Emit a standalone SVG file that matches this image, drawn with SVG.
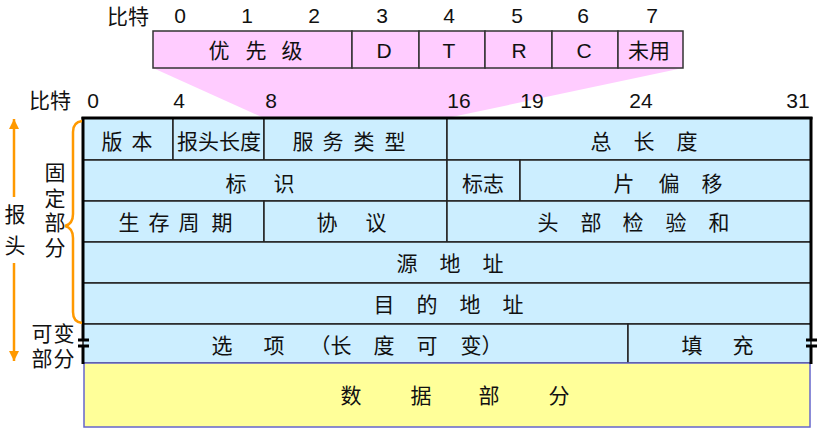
<svg xmlns="http://www.w3.org/2000/svg" width="826" height="443" viewBox="0 0 826 443">
<style>
text{font-family:"Liberation Sans","Noto Sans CJK SC",sans-serif;font-size:21px;fill:#111;text-anchor:middle}
.cjk{font-family:"Noto Sans CJK SC","Liberation Sans",sans-serif;font-size:21px}
.cell{fill:#CCEEFF;stroke:#222;stroke-width:1.5}
.pink{fill:#FFCCFF;stroke:#333;stroke-width:1.5}
.bold{stroke:#000;stroke-width:3;fill:none}
.orange{stroke:#FF9900;stroke-width:2.5;fill:none}
</style>
<defs>
<marker id="ah" viewBox="0 0 10 10" refX="10" refY="5" markerWidth="4" markerHeight="4" orient="auto-start-reverse" markerUnits="strokeWidth">
<path d="M0,0 L10,5 L0,10 z" fill="#FF9900"/>
</marker>
</defs>

<!-- pink expansion -->
<polygon points="153,68 683,68 447,118 264,118" fill="#FFCCFF"/>

<!-- top bit scale -->
<g id="bits-top">
<text class="cjk" x="128" y="24">比特</text>
<text x="180" y="23">0</text><text x="247" y="23">1</text><text x="314" y="23">2</text><text x="382" y="23">3</text>
<text x="449" y="23">4</text><text x="517" y="23">5</text><text x="583" y="23">6</text><text x="652" y="23">7</text>
</g>

<g id="tos-box">
<rect class="pink" x="153" y="31" width="199" height="37"/>
<rect class="pink" x="352" y="31" width="67" height="37"/>
<rect class="pink" x="419" y="31" width="66" height="37"/>
<rect class="pink" x="485" y="31" width="67" height="37"/>
<rect class="pink" x="552" y="31" width="66" height="37"/>
<rect class="pink" x="618" y="31" width="65" height="37"/>
<text class="cjk" x="219 256 292" y="58">优先级</text>
<text x="384" y="58">D</text><text x="449" y="58">T</text><text x="519" y="58">R</text><text x="584" y="58">C</text>
<text class="cjk" x="649" y="58">未用</text>
</g>

<!-- main bit scale -->
<g id="bits-main">
<text class="cjk" x="50" y="108">比特</text>
<text x="93" y="108">0</text><text x="179" y="108">4</text><text x="271" y="108">8</text><text x="459" y="108">16</text>
<text x="532" y="108">19</text><text x="641" y="108">24</text><text x="798" y="108">31</text>
</g>

<g id="row1">
<rect class="cell" x="83" y="118" width="90" height="42"/>
<rect class="cell" x="173" y="118" width="91" height="42"/>
<rect class="cell" x="264" y="118" width="183" height="42"/>
<rect class="cell" x="447" y="118" width="364" height="42"/>
<text class="cjk" x="112 142" y="149">版本</text>
<text class="cjk" x="219" y="149">报头长度</text>
<text class="cjk" x="303 333 364 395" y="149">服务类型</text>
<text class="cjk" x="601 644 687" y="149">总长度</text>
</g>
<g id="row2">
<rect class="cell" x="83" y="160" width="364" height="41"/>
<rect class="cell" x="447" y="160" width="73" height="41"/>
<rect class="cell" x="520" y="160" width="291" height="41"/>
<text class="cjk" x="236 284" y="191">标识</text>
<text class="cjk" x="483" y="191">标志</text>
<text class="cjk" x="624 669 712" y="191">片偏移</text>
</g>
<g id="row3">
<rect class="cell" x="83" y="201" width="181" height="41"/>
<rect class="cell" x="264" y="201" width="183" height="41"/>
<rect class="cell" x="447" y="201" width="364" height="41"/>
<text class="cjk" x="129 159 189 222" y="230">生存周期</text>
<text class="cjk" x="327 376" y="230">协议</text>
<text class="cjk" x="548 591 633 676 719" y="230">头部检验和</text>
</g>
<g id="row4">
<rect class="cell" x="83" y="242" width="728" height="41"/>
<text class="cjk" x="407 450 493" y="271">源地址</text>
</g>
<g id="row5">
<rect class="cell" x="83" y="283" width="728" height="41"/>
<text class="cjk" x="384 427 470 513" y="312">目的地址</text>
</g>
<g id="row6">
<rect class="cell" x="83" y="324" width="545" height="39"/>
<rect class="cell" x="628" y="324" width="183" height="39"/>
<text class="cjk" x="222 274 320 341 384 427 471 492" y="353">选项（长度可变）</text>
<text class="cjk" x="692 743" y="353">填充</text>
</g>
<g id="data">
<rect x="84" y="363" width="726" height="64" fill="#FFFF99" stroke="#6666CC" stroke-width="1.5"/>
<text class="cjk" x="351 421 489 559" y="403">数据部分</text>
</g>

<!-- header outer borders -->
<g id="borders">
<line class="bold" x1="81.5" y1="118" x2="812.5" y2="118" stroke-width="2.5"/>
<line class="bold" x1="83" y1="117" x2="83" y2="340"/>
<line class="bold" x1="83" y1="346" x2="83" y2="364"/>
<line class="bold" x1="811" y1="117" x2="811" y2="340"/>
<line class="bold" x1="811" y1="346" x2="811" y2="364"/>
<line class="bold" x1="78" y1="340" x2="89" y2="340" stroke-width="2.5"/>
<line class="bold" x1="78" y1="346" x2="89" y2="346" stroke-width="2.5"/>
<line class="bold" x1="806" y1="340" x2="817" y2="340" stroke-width="2.5"/>
<line class="bold" x1="806" y1="346" x2="817" y2="346" stroke-width="2.5"/>
</g>

<g id="connectors">
<line class="orange" x1="14" y1="197" x2="14" y2="119" marker-end="url(#ah)"/>
<line class="orange" x1="14" y1="263" x2="14" y2="361" marker-end="url(#ah)"/>
<path class="orange" d="M82,121 Q73,122 73,132 L73,214 Q73,224 65,226 Q73,228 73,238 L73,312 Q73,322 82,323"/>
</g>

<g id="labels">
<text class="cjk" x="15 15" y="222 253" font-size="22">报头</text>
<text class="cjk" x="55 55 55 55" y="180 206 230 255">固定部分</text>
<text class="cjk" x="42 64 42 64" y="341 341 366 366">可变部分</text>
</g>
</svg>
